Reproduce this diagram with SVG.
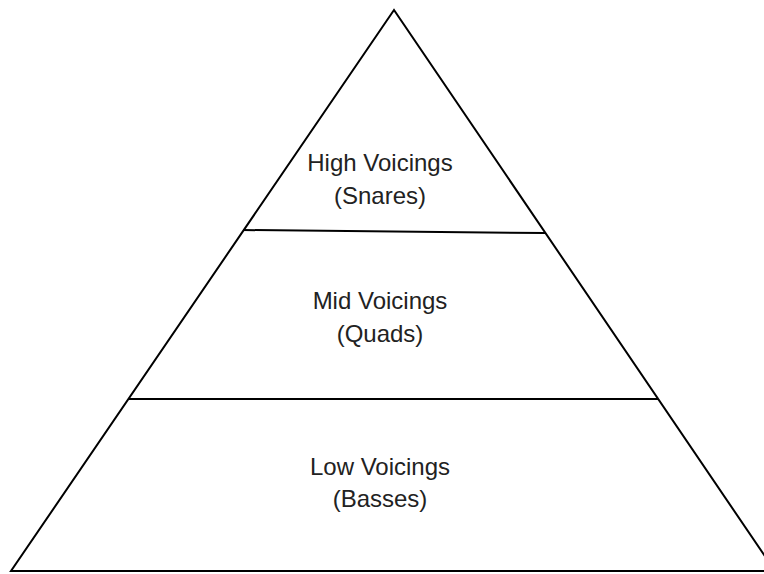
<svg xmlns="http://www.w3.org/2000/svg" width="764" height="574" viewBox="0 0 764 574">
<style>
.edge{stroke:#000;stroke-width:2;fill:none;stroke-linejoin:miter}
.lbl{font-family:"Liberation Sans",Arial,sans-serif;font-size:24px;fill:#222;text-anchor:middle}
</style>
<rect width="764" height="574" fill="#fff"/>
<g id="connectors">
<path class="edge" d="M394,10 L11,571 L775,571 Z"/>
<line class="edge" x1="243" y1="230" x2="545" y2="233"/>
<line class="edge" x1="128" y1="399" x2="658" y2="399"/>
</g>
<g id="high">
<text class="lbl" x="380" y="171">High Voicings</text>
<text class="lbl" x="380" y="204">(Snares)</text>
</g>
<g id="mid">
<text class="lbl" x="380" y="309">Mid Voicings</text>
<text class="lbl" x="380" y="342">(Quads)</text>
</g>
<g id="low">
<text class="lbl" x="380" y="475">Low Voicings</text>
<text class="lbl" x="380" y="507">(Basses)</text>
</g>
</svg>
